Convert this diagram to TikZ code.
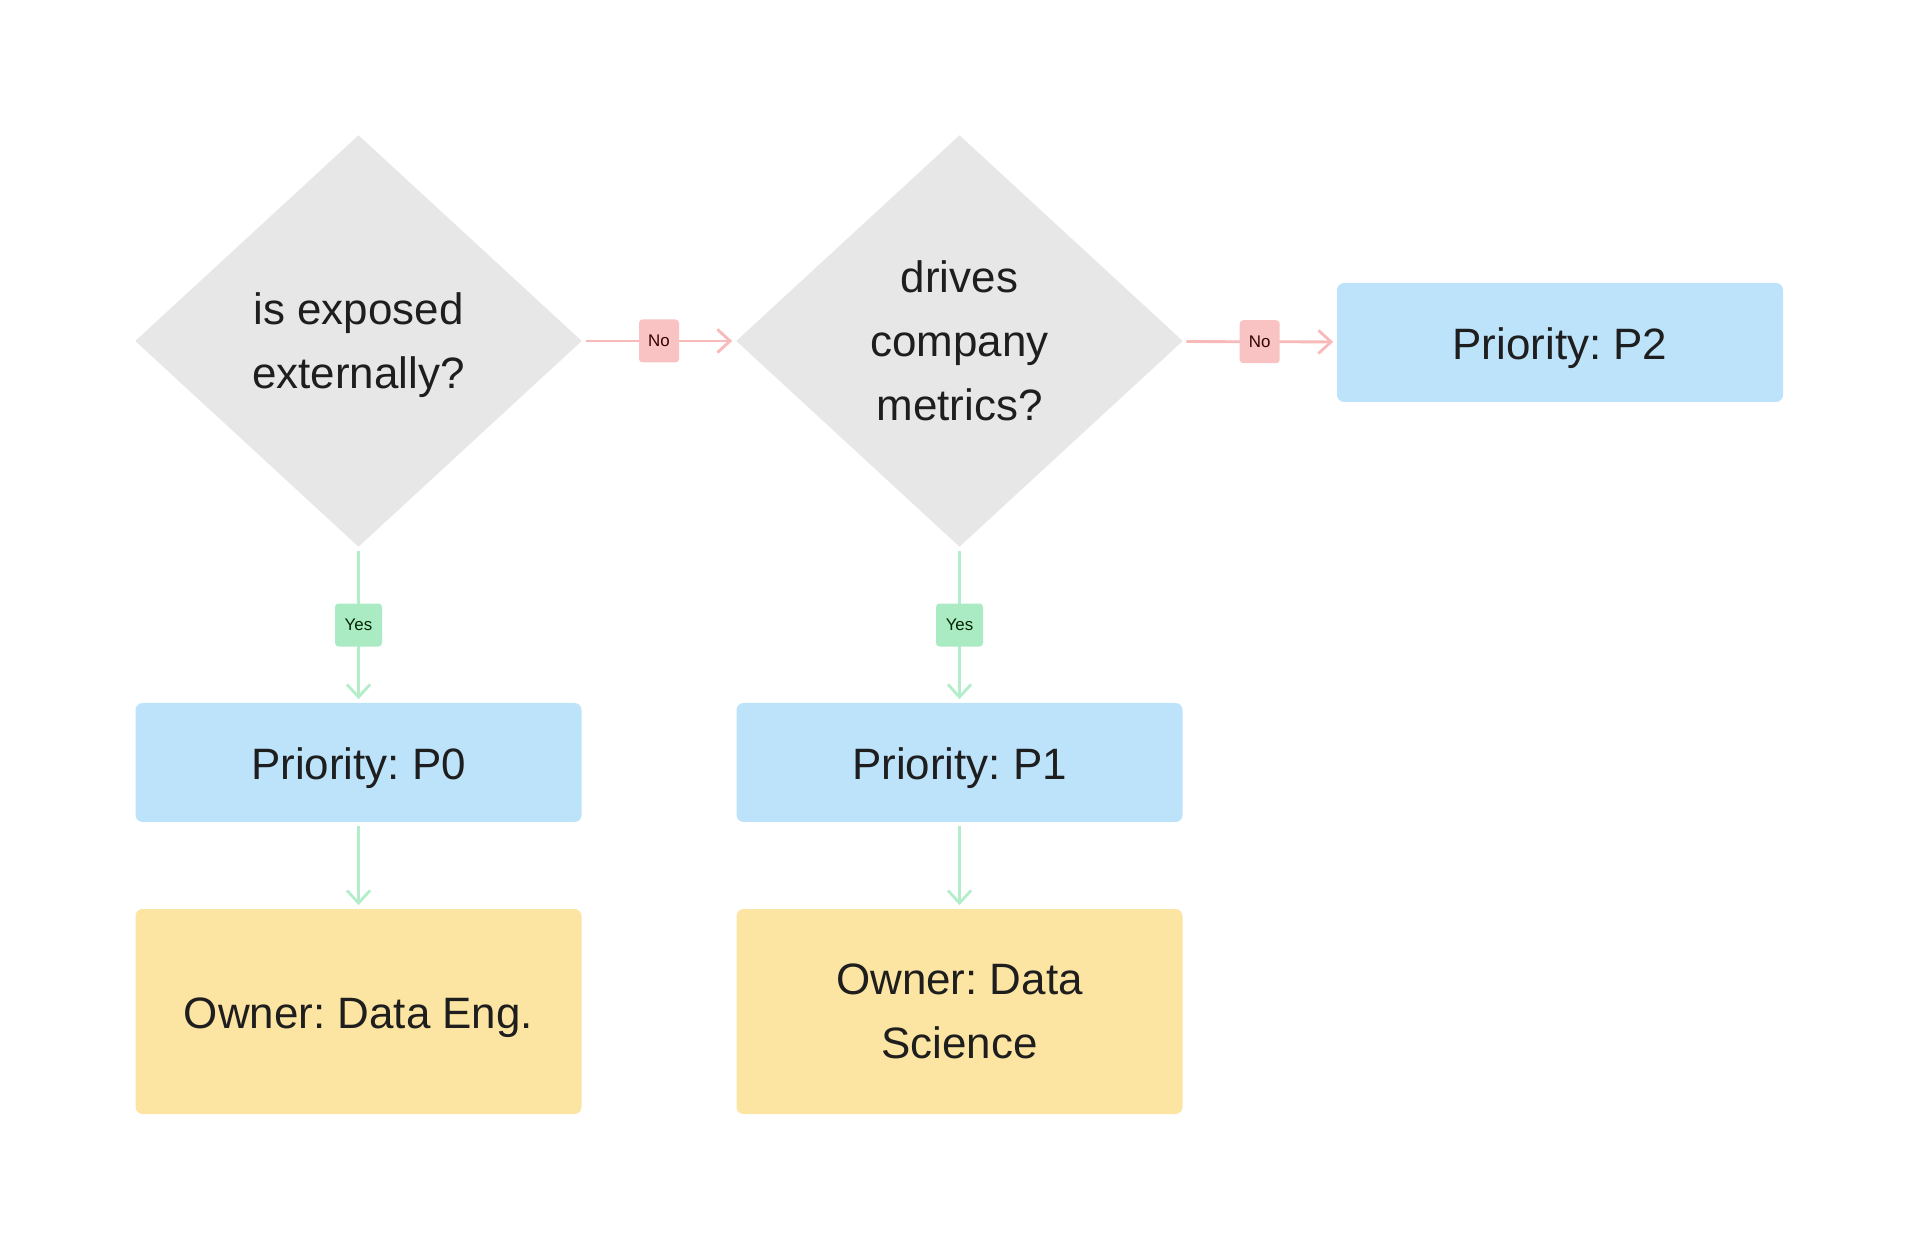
\documentclass[tikz,border=0pt]{standalone}
\usepackage{fontspec}
\setmainfont{Liberation Sans}
\usetikzlibrary{shapes.geometric,arrows.meta}
\frenchspacing

\definecolor{decgray}{HTML}{E7E7E7}
\definecolor{prioblue}{HTML}{BDE3FB}
\definecolor{owneryellow}{HTML}{FCE5A2}
\definecolor{yesgreen}{HTML}{B3EDCA}
\definecolor{yesfill}{HTML}{ABEBC3}
\definecolor{nored}{HTML}{F8B9B9}
\definecolor{nofill}{HTML}{F9C3C3}
\definecolor{textdark}{HTML}{1E1E1E}

\begin{document}
\begin{tikzpicture}[
    decision/.style={diamond, fill=decgray, minimum width=4.47cm, minimum height=4.12cm, inner sep=0pt, align=center, text depth=-1.4pt, text=textdark, font=\fontsize{12.5}{18.2}\selectfont},
    prio/.style={rectangle, rounded corners=2pt, fill=prioblue, minimum width=4.46cm, minimum height=1.19cm, text height=12pt, text depth=2.2pt, text=textdark, font=\fontsize{12.5}{18.2}\selectfont},
    owner/.style={rectangle, rounded corners=2pt, fill=owneryellow, minimum width=4.46cm, minimum height=2.05cm, align=center, text depth=-1.4pt, text=textdark, font=\fontsize{12.5}{18.2}\selectfont},
    yesline/.style={draw=yesgreen, line width=0.8pt, shorten <=0.9pt, shorten >=0.9pt, -{Straight Barb[length=3.6pt,width=6.6pt]}},
    noline/.style={draw=nored, line width=0.8pt, shorten <=0.9pt, shorten >=0.9pt, -{Straight Barb[length=3.6pt,width=6.6pt]}},
    yestag/.style={fill=yesfill, rounded corners=1pt, minimum width=0.47cm, minimum height=0.43cm, inner sep=0pt, text=black!75!green!60!black, font=\fontsize{4.8}{5}\selectfont},
    notag/.style={fill=nofill, rounded corners=1pt, minimum width=0.40cm, minimum height=0.43cm, inner sep=0pt, text=black!80!red, font=\fontsize{4.8}{5}\selectfont}
  ]
  \useasboundingbox (0,0) rectangle (19.2,-12.51);

  \node[decision] (D1) at (3.585,-3.41) {is exposed\\externally?};
  \node[decision] (D2) at (9.595,-3.41) {drives\\company\\metrics?};
  \node[prio] (P2) at (15.60,-3.425) {Priority: P2};

  \node[prio] (P0) at (3.585,-7.625) {Priority: P0};
  \node[prio] (P1) at (9.595,-7.625) {Priority: P1};

  \node[owner, align=left, text height=12pt, text depth=2.2pt] (O1) at (3.585,-10.115) {Owner: Data Eng.};
  \node[owner] (O2) at (9.595,-10.115) {Owner: Data\\Science};

  \draw[noline] (D1) -- node[notag] {No} (D2);
  \draw[noline] (D2) -- node[notag] {No} (P2);

  \draw[yesline] (D1) -- node[yestag] {Yes} (P0);
  \draw[yesline] (D2) -- node[yestag] {Yes} (P1);

  \draw[yesline] (P0) -- (O1);
  \draw[yesline] (P1) -- (O2);
\end{tikzpicture}
\end{document}
